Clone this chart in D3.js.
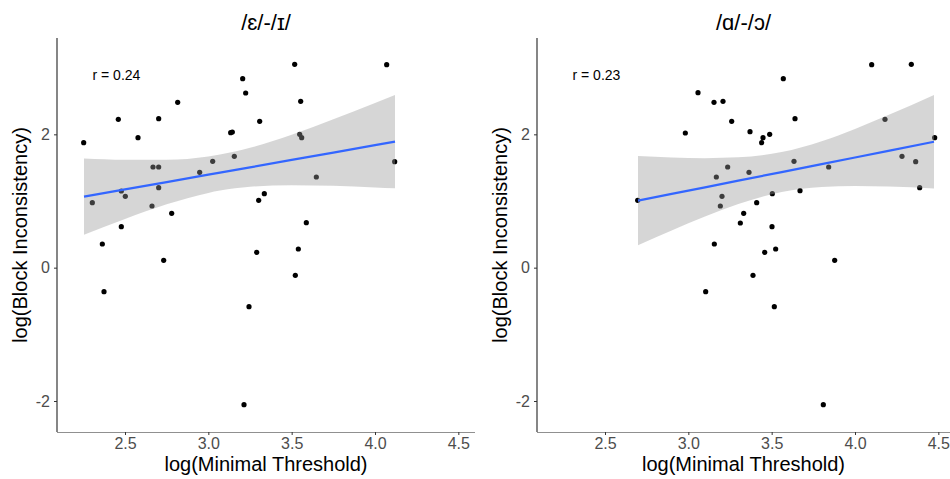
<!DOCTYPE html>
<html>
<head>
<meta charset="utf-8">
<script src="https://cdn.jsdelivr.net/npm/d3@7"></script>
<style>
  body { margin: 0; background: #fff; }
  svg { display: block; font-family: "Liberation Sans", Arial, sans-serif; }
</style>
</head>
<body>
<div id="chart"></div>
<script>
// panel 1: /ɛ/-/ɪ/
var ehX = [2.252, 2.304, 2.364, 2.374, 2.46, 2.478, 2.502, 2.478, 2.578, 2.668,
           2.702, 2.702, 2.702, 2.662, 2.732, 2.78, 2.816, 2.948, 3.026, 3.134,
           3.144, 3.156, 3.206, 3.224, 3.214, 3.244, 3.308, 3.302, 3.336, 3.29,
           3.518, 3.554, 3.548, 3.56, 3.54, 3.522, 3.588, 3.648, 4.07, 4.118];
var ehY = [1.875, 0.975, 0.355, -0.36, 2.225, 1.15, 1.07, 0.615, 1.95, 1.51,
           1.51, 2.235, 1.2, 0.925, 0.11, 0.815, 2.48, 1.43, 1.595, 2.025,
           2.035, 1.67, 2.835, 2.62, -2.055, -0.585, 2.195, 1.01, 1.11, 0.23,
           3.05, 2.495, 2.0, 1.95, 0.28, -0.115, 0.675, 1.36, 3.045, 1.59];
// smooth (lm fit) and its 95% band
var ehSmoothX  = [2.254, 2.5, 2.75, 3.0, 3.07, 3.25, 3.5, 3.75, 4.0, 4.12];
var ehSmoothY  = [1.065, 1.174, 1.284, 1.395, 1.426, 1.505, 1.616, 1.726, 1.837, 1.890];
var ehSmoothLo = [0.494, 0.731, 0.950, 1.121, 1.156, 1.213, 1.238, 1.227, 1.203, 1.190];
var ehSmoothHi = [1.636, 1.617, 1.618, 1.669, 1.696, 1.797, 1.994, 2.225, 2.471, 2.590];

// panel 2: /ɑ/-/ɔ/
var aoX = [2.696, 2.982, 3.058, 3.104, 3.154, 3.208, 3.168, 3.156, 3.202, 3.192,
           3.236, 3.26, 3.312, 3.332, 3.37, 3.364, 3.388, 3.41, 3.44, 3.448,
           3.488, 3.458, 3.504, 3.502, 3.524, 3.516, 3.57, 3.634, 3.64, 3.67,
           3.842, 3.878, 3.81, 4.1, 4.18, 4.282, 4.338, 4.364, 4.388, 4.478];
var aoY = [1.01, 2.02, 2.625, -0.36, 2.48, 2.495, 1.36, 0.355, 1.07, 0.925,
           1.51, 2.195, 0.67, 0.815, 2.04, 1.43, -0.115, 0.975, 1.875, 1.95,
           2.0, 0.23, 1.11, 0.615, 0.28, -0.585, 2.835, 1.595, 2.235, 1.155,
           1.51, 0.11, -2.055, 3.045, 2.225, 1.67, 3.05, 1.59, 1.2, 1.95];
var aoSmoothX  = [2.698, 2.9, 3.1, 3.3, 3.56, 3.8, 4.0, 4.2, 4.474];
var aoSmoothY  = [1.005, 1.106, 1.205, 1.305, 1.434, 1.554, 1.653, 1.753, 1.889];
var aoSmoothLo = [0.335, 0.558, 0.767, 0.955, 1.134, 1.211, 1.225, 1.217, 1.187];
var aoSmoothHi = [1.675, 1.654, 1.643, 1.655, 1.734, 1.897, 2.081, 2.289, 2.591];

var titles = ["/\u025B/-/\u026A/", "/\u0251/-/\u0254/"];
var rLabels = ["r = 0.24", "r = 0.23"];
var xTicks = [2.5, 3.0, 3.5, 4.0, 4.5];
var yTicks = [-2, 0, 2];

var W = 950, H = 479;
var svg = d3.select("#chart").append("svg").attr("width", W).attr("height", H);

var panels = [
	{ xs: ehX, ys: ehY, sx: ehSmoothX, sy: ehSmoothY, slo: ehSmoothLo, shi: ehSmoothHi,
	  left: 57, right: 475, title: titles[0], r: rLabels[0] },
	{ xs: aoX, ys: aoY, sx: aoSmoothX, sy: aoSmoothY, slo: aoSmoothLo, shi: aoSmoothHi,
	  left: 537, right: 950, title: titles[1], r: rLabels[1] }
];

var plotTop = 38, plotBottom = 432;

panels.forEach(function(p) {
	var x = d3.scaleLinear().domain([2.092, 4.6]).range([p.left, p.left + 418]);
	var y = d3.scaleLinear().domain([-2.465, 3.445]).range([plotBottom, plotTop]);
	var g = svg.append("g");

	var clipId = "clip" + p.left;
	svg.append("clipPath").attr("id", clipId)
		.append("rect").attr("x", p.left - 1).attr("y", 0).attr("width", p.right - p.left + 1).attr("height", H);

	var data = p.xs.map(function(v, i) { return { x: v, y: p.ys[i] }; });

	// points
	g.selectAll("circle").data(data).enter().append("circle")
		.attr("cx", function(d) { return x(d.x); })
		.attr("cy", function(d) { return y(d.y); })
		.attr("r", 2.6)
		.attr("fill", "#000");

	// smooth band + line
	var sm = p.sx.map(function(v, i) { return { x: v, y: p.sy[i], lo: p.slo[i], hi: p.shi[i] }; });
	g.append("path").datum(sm)
		.attr("d", d3.area().curve(d3.curveMonotoneX)
			.x(function(d) { return x(d.x); })
			.y0(function(d) { return y(d.lo); })
			.y1(function(d) { return y(d.hi); }))
		.attr("fill", "#999999").attr("fill-opacity", 0.4);
	g.append("path").datum(sm)
		.attr("d", d3.line().x(function(d) { return x(d.x); }).y(function(d) { return y(d.y); }))
		.attr("fill", "none").attr("stroke", "#3366FF").attr("stroke-width", 2.2);

	// axes
	var xa = svg.append("g").attr("transform", "translate(0," + plotBottom + ")")
		.attr("clip-path", "url(#" + clipId + ")")
		.call(d3.axisBottom(x).tickValues(xTicks).tickFormat(d3.format(".1f")).tickSize(3).tickPadding(3));
	xa.select(".domain").attr("d", "M" + p.left + ",0H" + p.right);
	var ya = svg.append("g").attr("transform", "translate(" + p.left + ",0)")
		.call(d3.axisLeft(y).tickValues(yTicks).tickFormat(function(d) { return String(d); })
			.tickSize(3).tickPadding(4));
	ya.select(".domain").attr("d", "M0," + plotTop + "V" + plotBottom);

	[xa, ya].forEach(function(a) {
		a.select(".domain").attr("stroke", "#222").attr("stroke-width", 1.1);
		a.selectAll(".tick line").attr("stroke", "#333");
		a.selectAll(".tick text").attr("fill", "#4d4d4d").style("font-size", "16px")
			.style("font-family", "'Liberation Sans', Arial, sans-serif");
	});

	var cx = (p.left + p.right) / 2;
	svg.append("text").attr("x", cx).attr("y", 30)
		.attr("text-anchor", "middle").style("font-size", "22px").text(p.title);
	svg.append("text").attr("x", cx).attr("y", 471)
		.attr("text-anchor", "middle").style("font-size", "20px").text("log(Minimal Threshold)");
	svg.append("text")
		.attr("transform", "translate(" + (p.left - 30) + "," + ((plotTop + plotBottom) / 2) + ") rotate(-90)")
		.attr("text-anchor", "middle").style("font-size", "20px").text("log(Block Inconsistency)");
	svg.append("text").attr("x", x(2.305)).attr("y", 80)
		.style("font-size", "14px").text(p.r);
});
</script>
</body>
</html>
